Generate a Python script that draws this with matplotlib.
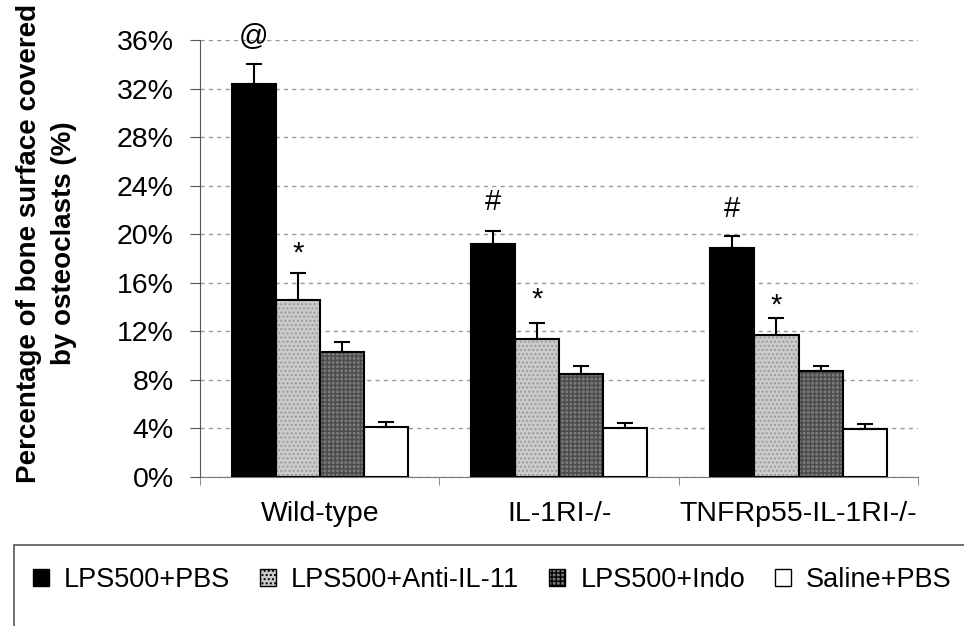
import numpy as np
import matplotlib
matplotlib.use('Agg')
import matplotlib.pyplot as plt
from matplotlib.patches import Rectangle, Patch

# data (percent)
groups = ['Wild-type', 'IL-1RI-/-', 'TNFRp55-IL-1RI-/-']
treatments = ['LPS500+PBS', 'LPS500+Anti-IL-11', 'LPS500+Indo', 'Saline+PBS']
means = [
    [32.4, 19.2, 18.9],   # LPS500+PBS
    [14.6, 11.4, 11.7],   # LPS500+Anti-IL-11
    [10.3, 8.5, 8.7],     # LPS500+Indo
    [4.15, 4.0, 3.95],    # Saline+PBS
]
errors = [
    [1.6, 1.1, 0.95],
    [2.2, 1.25, 1.4],
    [0.8, 0.65, 0.45],
    [0.35, 0.45, 0.45],
]
# significance marks: (group, treatment, symbol, y of glyph centre)
marks = [
    (0, 0, '@', 36.2),
    (0, 1, '*', 19.1),
    (1, 0, '#', 22.8),
    (1, 1, '*', 15.3),
    (2, 0, '#', 22.2),
    (2, 1, '*', 14.8),
]

plt.rcParams['font.family'] = ['Liberation Sans', 'DejaVu Sans']

fills = ['black', '#cbcbcb', '#7a7a7a', 'white']
hatches = [None, '....', '++++', None]
hatch_cols = ['black', '#9a9a9a', '#4a4a4a', 'white']

fig = plt.figure(figsize=(9.64, 6.26), dpi=100)
ax = fig.add_axes([0.2075, 0.238, 0.745, 0.698])

x = np.arange(len(groups))
w = 0.184
for i in range(len(treatments)):
    pos = x + (i - 1.5) * w
    ax.bar(pos, means[i], w, color=fills[i], hatch=hatches[i],
           edgecolor=hatch_cols[i], linewidth=0, zorder=3)
    ax.bar(pos, means[i], w, fill=False, edgecolor='black', linewidth=1.5, zorder=4)
    ax.errorbar(pos, means[i], yerr=[np.zeros(3), errors[i]], fmt='none',
                ecolor='black', elinewidth=1.5, capsize=6, capthick=1.5, zorder=5)

# glyph centre offsets (points) to baseline
offs = {'@': 5.0, '*': 11.5, '#': 7.0}
for g, t, s, yc in marks:
    ax.annotate(s, (x[g] + (t - 1.5) * w, yc), xytext=(0, -offs[s]),
                textcoords='offset points', ha='center', va='baseline',
                fontsize=21, annotation_clip=False)

ax.set_xlim(-0.5, 2.5)
ax.set_ylim(0, 36)
ax.set_yticks(np.arange(0, 37, 4))
ax.set_yticklabels([f'{v}%' for v in range(0, 37, 4)])
ax.set_xticks(x)
ax.set_xticklabels(groups)
ax.set_xticks([-0.5, 0.5, 1.5, 2.5], minor=True)
ax.tick_params(axis='x', which='major', length=0, pad=17, labelsize=20.5)
ax.tick_params(axis='x', which='minor', length=6, color='#777777', direction='out')
ax.tick_params(axis='y', length=7, labelsize=20.5, pad=12, color='#555555')
ax.grid(axis='y', linestyle=(0, (3, 3)), color='#999999', linewidth=1, zorder=0)
for s in ['top', 'right']:
    ax.spines[s].set_visible(False)
ax.spines['left'].set_color('#555555')
ax.spines['bottom'].set_color('#777777')

fig.text(0.048, 1 - 243 / 626, 'Percentage of bone surface covered\nby osteoclasts (%)',
         rotation=90, ha='center', va='center', fontsize=20, fontweight='bold',
         linespacing=1.45, multialignment='center')

# legend box runs off the page at the right and bottom
fig.patches.append(Rectangle((14 / 964, -0.1), 1.0, 0.1 + (626 - 545) / 626,
                             transform=fig.transFigure, fill=False,
                             edgecolor='#555555', linewidth=1.2))
handles = [Patch(facecolor=fills[i], hatch=hatches[i], edgecolor='black', linewidth=1)
           for i in range(4)]
fig.legend(handles, treatments, loc='center left', bbox_to_anchor=(22 / 964, 0.074),
           ncol=4, frameon=False, fontsize=19.5, handlelength=0.6, handleheight=0.6,
           handletextpad=0.55, columnspacing=1.1, borderaxespad=0)

fig.savefig('out.png', dpi=100)
